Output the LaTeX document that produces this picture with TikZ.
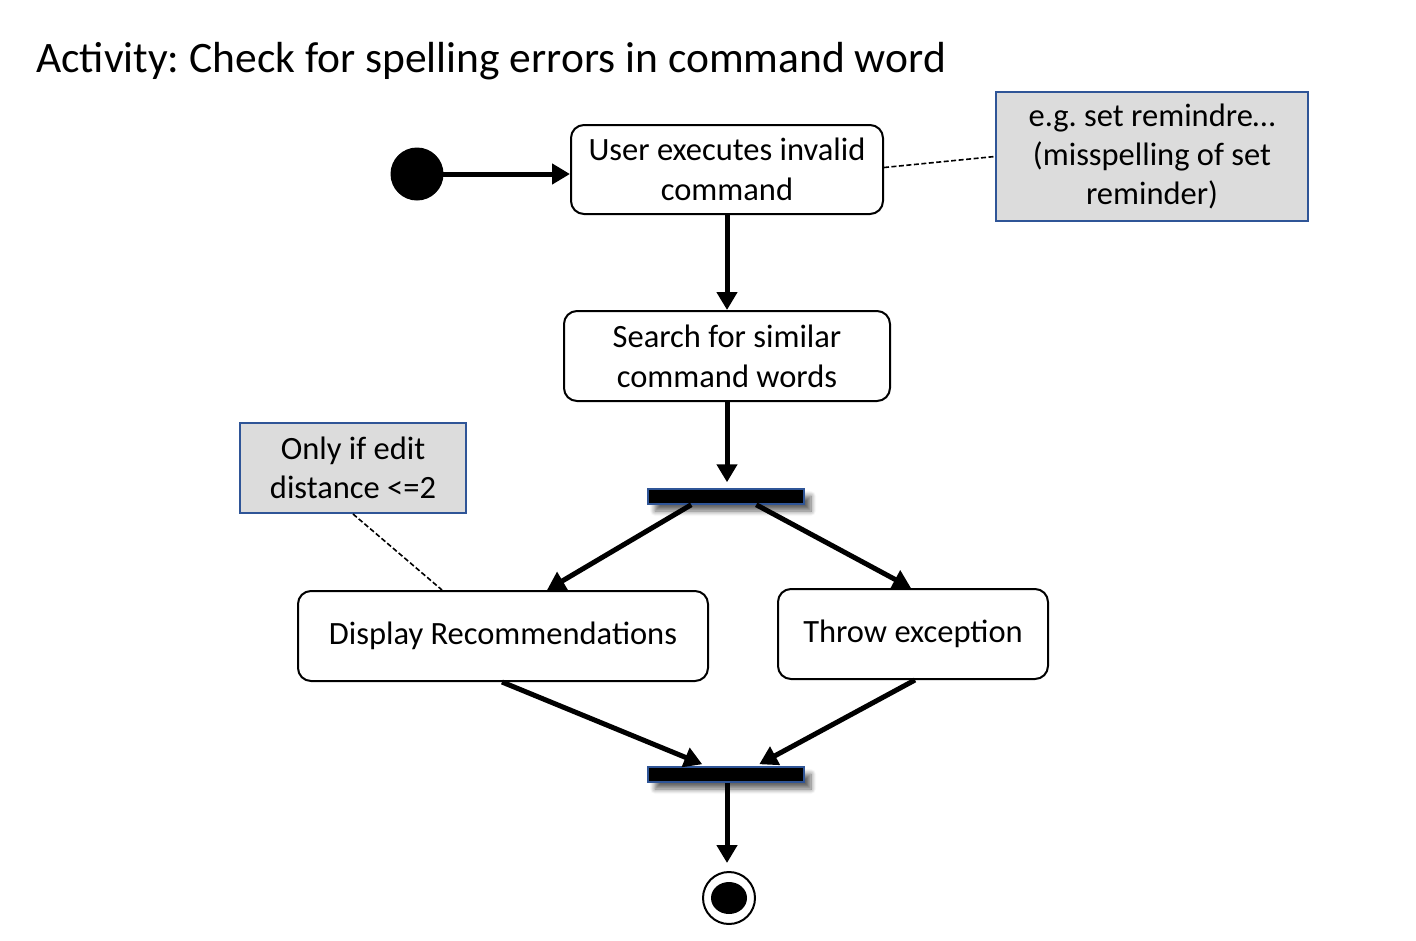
\documentclass[tikz,border=0pt]{standalone}
\usepackage{fontspec}
\setmainfont{Carlito}
\frenchspacing
\usetikzlibrary{arrows.meta,shadows.blur,calc,shapes.geometric}
\definecolor{notefill}{HTML}{DCDCDC}
\definecolor{noteborder}{HTML}{2F5597}
\tikzset{
  actbox/.style={draw=black, line width=2pt, rounded corners=13pt, fill=white,
    align=center, inner sep=0pt, font=\fontsize{32.5}{40}\selectfont},
  notebox/.style={draw=noteborder, line width=2pt, fill=notefill,
    align=center, inner sep=0pt, font=\fontsize{32.5}{39}\selectfont},
  forkbar/.style={draw=noteborder, line width=1.5pt, fill=black, minimum width=156pt,
    minimum height=15pt, inner sep=0pt,
    blur shadow={shadow xshift=7pt, shadow yshift=-7pt, shadow blur steps=8, shadow blur radius=5pt, shadow opacity=60}},
  flow/.style={line width=5pt, -{Triangle[length=18pt,width=20pt]}},
  anchorline/.style={line width=1.6pt, dash pattern=on 5pt off 2.5pt},
}
\begin{document}
\begin{tikzpicture}[x=1pt,y=-1pt]
\useasboundingbox (0,0) rectangle (1416,940);
\node[anchor=base west, inner sep=0pt, font=\fontsize{43.5}{50}\selectfont] (title) at (36,72) {Activity: Check for spelling errors in command word};

\node[circle, fill=black, minimum size=53pt, inner sep=0pt] (start) at (417,174) {};
\node[actbox, minimum width=312pt, minimum height=89pt] (b1) at (727,169.5) {User executes invalid\\command};
\node[notebox, minimum width=312pt, minimum height=129pt] (n1) at (1152,156.5) {e.g. set remindre\ldots\\(misspelling of set\\reminder)};
\node[actbox, minimum width=326pt, minimum height=90pt] (b2) at (727,356) {Search for similar\\command words};
\node[forkbar] (f1) at (726,496.5) {};
\node[notebox, minimum width=226pt, minimum height=90pt] (n2) at (353,468) {Only if edit\\distance <=2};
\node[actbox, minimum width=410pt, minimum height=90pt] (b3) at (503,636) {Display Recommendations};
\node[actbox, minimum width=270pt, minimum height=90pt] (b4) at (913,634) {Throw exception};
\node[forkbar] (f2) at (726,774.5) {};
\node[circle, draw=black, line width=2pt, fill=white, minimum size=52pt, inner sep=0pt] (endo) at (729,898) {};
\node[ellipse, fill=black, minimum width=36pt, minimum height=32pt, inner sep=0pt] (endi) at (729,898) {};

\draw[flow] (start.center) -- (start.center -| b1.west);
\draw[flow] (b1.south) -- (b2.north);
\draw[flow] (b2.south) -- ([yshift=6pt]b2.south |- f1.north);
\draw[flow] ([xshift=44pt]f1.south west) -- ([xshift=250pt]b3.north west);
\draw[flow] ([xshift=109pt]f1.south west) -- ([xshift=134pt]b4.north west);
\draw[flow] ([xshift=205pt]b3.south west) -- ([xshift=55pt,yshift=2pt]f2.north west);
\draw[flow] ([xshift=138pt]b4.south west) -- ([xshift=112pt,yshift=2pt]f2.north west);
\draw[flow] (b2.south |- f2.south) -- ([yshift=8pt]b2.south |- endo.north);
\draw[anchorline] ([yshift=2pt]b1.east) -- (n1.west);
\draw[anchorline] (n2.south) -- ([xshift=145pt]b3.north west);
\end{tikzpicture}
\end{document}
